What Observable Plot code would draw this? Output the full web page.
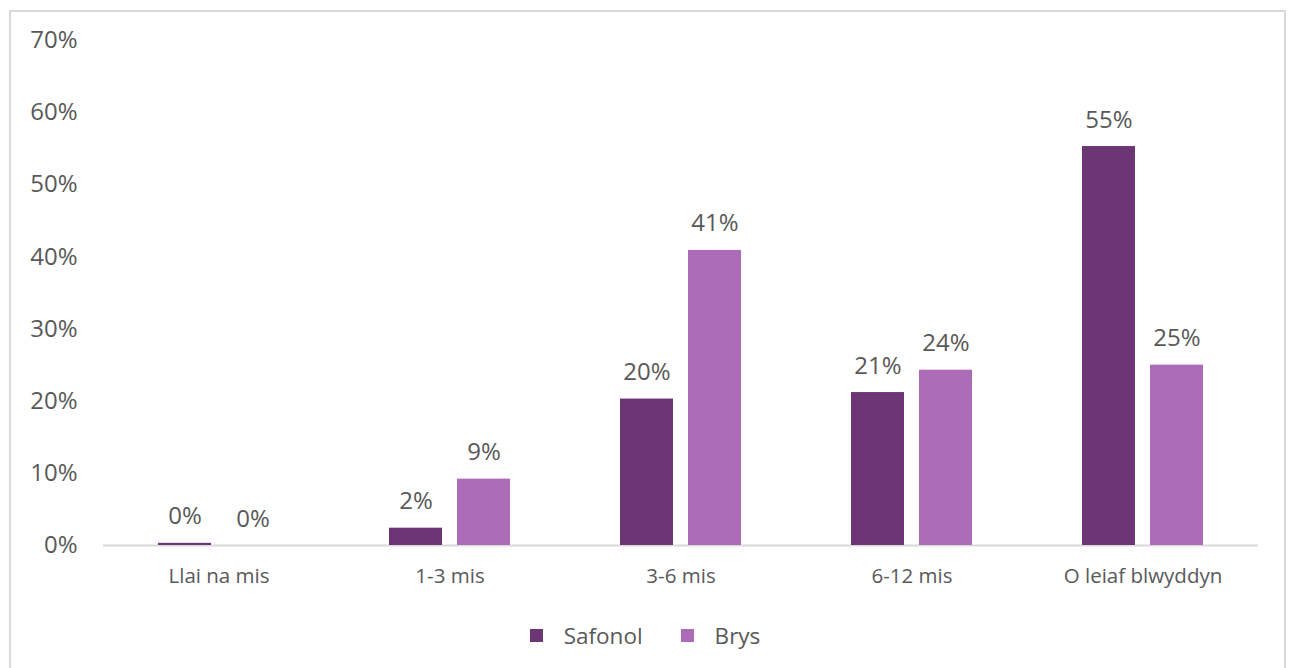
<!DOCTYPE html>
<html>
<head>
<meta charset="utf-8">
<script src="https://cdn.jsdelivr.net/npm/d3@7"></script>
<script src="https://cdn.jsdelivr.net/npm/@observablehq/plot@0.6"></script>
<style>
  html, body { margin: 0; padding: 0; background: #fff; }
  body { width: 1290px; height: 668px; position: relative; overflow: hidden; font-family: "Open Sans", sans-serif; }
  #frame { position: absolute; left: 9px; top: 10px; width: 1277px; height: 700px; border: 2px solid #d9d9d9; box-sizing: border-box; }
  #chart { position: absolute; left: 0; top: 0; }
  #legend { position: absolute; left: 0; top: 620px; width: 1290px; display: flex; justify-content: center; align-items: center; color: #595959; font-size: 22.5px; }
  .item { display: flex; align-items: center; margin: 0 19px; }
  .sw { width: 13px; height: 13px; margin-right: 21px; display: inline-block; }
</style>
</head>
<body>
<div id="frame"></div>
<div id="chart"></div>
<div id="legend"></div>
<script>
const categories = ["Llai na mis", "1-3 mis", "3-6 mis", "6-12 mis", "O leiaf blwyddyn"];
const series = ["Safonol", "Brys"];
const safonolValues = [0.3, 2.4, 20.3, 21.2, 55.3];
const brysValues = [0, 9.2, 40.9, 24.3, 25.0];
const yTicks = [0, 10, 20, 30, 40, 50, 60, 70];
const colors = ["#6c3574", "#ac6bb7"];

const data = [];
categories.forEach((c, i) => {
  data.push({cat: c, series: "Safonol", value: safonolValues[i]});
  data.push({cat: c, series: "Brys", value: brysValues[i]});
});

const chart = Plot.plot({
  width: 1290,
  height: 600,
  marginTop: 40,
  marginBottom: 55,
  marginLeft: 103,
  marginRight: 32,
  style: {fontFamily: "Open Sans", color: "#595959", background: "transparent", overflow: "visible"},
  fx: {domain: categories, padding: 0, label: null},
  x: {domain: series, paddingInner: 0.217, paddingOuter: 0.783, axis: null},
  y: {domain: [0, 70], label: null},
  color: {domain: series, range: colors},
  marks: [
    Plot.axisY({ticks: yTicks, tickFormat: d => d + "%", tickSize: 0, tickPadding: 26, fontSize: 24, fill: "#595959", label: null}),
    Plot.axisFx({anchor: "bottom", tickSize: 0, tickPadding: 23, fontSize: 20.5, fill: "#595959", label: null}),
    Plot.ruleY([0], {stroke: "#d9d9d9", strokeWidth: 2}),
    Plot.barY(data, {fx: "cat", x: "series", y: "value", fill: "series"}),
    Plot.text(data, {fx: "cat", x: "series", y: "value", text: d => Math.round(d.value) + "%", dy: -19, lineAnchor: "bottom", fontSize: 24, fill: "#595959"})
  ]
});
document.getElementById("chart").appendChild(chart);

const legend = document.getElementById("legend");
series.forEach((s, i) => {
  const item = document.createElement("div");
  item.className = "item";
  const sw = document.createElement("span");
  sw.className = "sw";
  sw.style.background = colors[i];
  item.appendChild(sw);
  const t = document.createElement("span");
  t.textContent = s;
  item.appendChild(t);
  legend.appendChild(item);
});
</script>
</body>
</html>
